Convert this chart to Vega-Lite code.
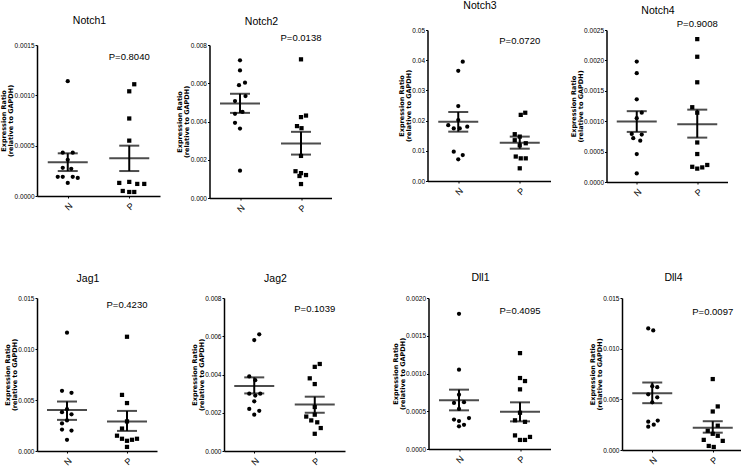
{
"$schema":"https://vega.github.io/schema/vega-lite/v6.json",
"padding":{"left":0,"top":0,"right":0,"bottom":0},
"background":"white",
"datasets":{
"pts":[
{"g":"Notch1","grp":"N","v":0.00114,"j":0},{"g":"Notch1","grp":"N","v":0.00043,"j":-1},{"g":"Notch1","grp":"N","v":0.00043,"j":1},{"g":"Notch1","grp":"N","v":0.00036,"j":0},{"g":"Notch1","grp":"N","v":0.00028,"j":-1},{"g":"Notch1","grp":"N","v":0.00027,"j":0.7},{"g":"Notch1","grp":"N","v":0.00019,"j":-2},{"g":"Notch1","grp":"N","v":0.00019,"j":-1},{"g":"Notch1","grp":"N","v":0.00019,"j":1},{"g":"Notch1","grp":"N","v":0.00018,"j":2},{"g":"Notch1","grp":"N","v":0.00013,"j":0},
{"g":"Notch1","grp":"P","v":0.00111,"j":1},{"g":"Notch1","grp":"P","v":0.00104,"j":0},{"g":"Notch1","grp":"P","v":0.00077,"j":0},{"g":"Notch1","grp":"P","v":0.00055,"j":0},{"g":"Notch1","grp":"P","v":0.00013,"j":-2},{"g":"Notch1","grp":"P","v":0.00014,"j":0},{"g":"Notch1","grp":"P","v":0.00012,"j":1.6},{"g":"Notch1","grp":"P","v":0.00012,"j":3},{"g":"Notch1","grp":"P","v":0.00005,"j":-1.3},{"g":"Notch1","grp":"P","v":0.00004,"j":0},{"g":"Notch1","grp":"P","v":0.00004,"j":1},
{"g":"Notch2","grp":"N","v":0.0072,"j":0},{"g":"Notch2","grp":"N","v":0.00667,"j":0},{"g":"Notch2","grp":"N","v":0.0059,"j":-0.2},{"g":"Notch2","grp":"N","v":0.00603,"j":1},{"g":"Notch2","grp":"N","v":0.00533,"j":1.1},{"g":"Notch2","grp":"N","v":0.00507,"j":-1},{"g":"Notch2","grp":"N","v":0.0045,"j":0.5},{"g":"Notch2","grp":"N","v":0.0044,"j":-1},{"g":"Notch2","grp":"N","v":0.00393,"j":-1},{"g":"Notch2","grp":"N","v":0.00363,"j":0},{"g":"Notch2","grp":"N","v":0.00143,"j":0},
{"g":"Notch2","grp":"P","v":0.00725,"j":0},{"g":"Notch2","grp":"P","v":0.00431,"j":1},{"g":"Notch2","grp":"P","v":0.00423,"j":0},{"g":"Notch2","grp":"P","v":0.00376,"j":-0.8},{"g":"Notch2","grp":"P","v":0.00365,"j":0.1},{"g":"Notch2","grp":"P","v":0.0022,"j":0},{"g":"Notch2","grp":"P","v":0.0014,"j":-1.1},{"g":"Notch2","grp":"P","v":0.0013,"j":0},{"g":"Notch2","grp":"P","v":0.0012,"j":1},{"g":"Notch2","grp":"P","v":0.00115,"j":-0.3},{"g":"Notch2","grp":"P","v":0.00073,"j":0},
{"g":"Notch3","grp":"N","v":0.0395,"j":0.9},{"g":"Notch3","grp":"N","v":0.0365,"j":0},{"g":"Notch3","grp":"N","v":0.0248,"j":0},{"g":"Notch3","grp":"N","v":0.0202,"j":0},{"g":"Notch3","grp":"N","v":0.0185,"j":-2},{"g":"Notch3","grp":"N","v":0.018,"j":1.8},{"g":"Notch3","grp":"N","v":0.0174,"j":-0.9},{"g":"Notch3","grp":"N","v":0.0174,"j":0.3},{"g":"Notch3","grp":"N","v":0.0097,"j":-0.9},{"g":"Notch3","grp":"N","v":0.0086,"j":0.9},{"g":"Notch3","grp":"N","v":0.0072,"j":0},
{"g":"Notch3","grp":"P","v":0.0226,"j":1.1},{"g":"Notch3","grp":"P","v":0.0219,"j":0.2},{"g":"Notch3","grp":"P","v":0.0155,"j":-1},{"g":"Notch3","grp":"P","v":0.0147,"j":0},{"g":"Notch3","grp":"P","v":0.0135,"j":-1},{"g":"Notch3","grp":"P","v":0.0125,"j":1.2},{"g":"Notch3","grp":"P","v":0.0118,"j":0},{"g":"Notch3","grp":"P","v":0.0081,"j":-0.8},{"g":"Notch3","grp":"P","v":0.0075,"j":1.2},{"g":"Notch3","grp":"P","v":0.0075,"j":0.2},{"g":"Notch3","grp":"P","v":0.0042,"j":0},
{"g":"Notch4","grp":"N","v":0.00198,"j":0},{"g":"Notch4","grp":"N","v":0.00179,"j":0},{"g":"Notch4","grp":"N","v":0.00136,"j":0},{"g":"Notch4","grp":"N","v":0.00114,"j":1},{"g":"Notch4","grp":"N","v":0.00105,"j":0},{"g":"Notch4","grp":"N","v":0.00079,"j":-1},{"g":"Notch4","grp":"N","v":0.00078,"j":1},{"g":"Notch4","grp":"N","v":0.00072,"j":-0.7},{"g":"Notch4","grp":"N","v":0.00068,"j":0.7},{"g":"Notch4","grp":"N","v":0.00046,"j":0},{"g":"Notch4","grp":"N","v":0.00014,"j":0},
{"g":"Notch4","grp":"P","v":0.00235,"j":0},{"g":"Notch4","grp":"P","v":0.00206,"j":0},{"g":"Notch4","grp":"P","v":0.00164,"j":0},{"g":"Notch4","grp":"P","v":0.00123,"j":-1},{"g":"Notch4","grp":"P","v":0.00114,"j":0},{"g":"Notch4","grp":"P","v":0.00065,"j":0},{"g":"Notch4","grp":"P","v":0.00046,"j":0},{"g":"Notch4","grp":"P","v":0.00025,"j":-1},{"g":"Notch4","grp":"P","v":0.00022,"j":0},{"g":"Notch4","grp":"P","v":0.00024,"j":1},{"g":"Notch4","grp":"P","v":0.00028,"j":2},
{"g":"Jag1","grp":"N","v":0.0116,"j":0},{"g":"Jag1","grp":"N","v":0.0059,"j":-1},{"g":"Jag1","grp":"N","v":0.0057,"j":0.9},{"g":"Jag1","grp":"N","v":0.0041,"j":0},{"g":"Jag1","grp":"N","v":0.0038,"j":-1},{"g":"Jag1","grp":"N","v":0.0036,"j":0.9},{"g":"Jag1","grp":"N","v":0.003,"j":0},{"g":"Jag1","grp":"N","v":0.0027,"j":-1},{"g":"Jag1","grp":"N","v":0.0021,"j":-1},{"g":"Jag1","grp":"N","v":0.002,"j":0.9},{"g":"Jag1","grp":"N","v":0.0011,"j":0},
{"g":"Jag1","grp":"P","v":0.0112,"j":0},{"g":"Jag1","grp":"P","v":0.0055,"j":-1},{"g":"Jag1","grp":"P","v":0.0047,"j":0},{"g":"Jag1","grp":"P","v":0.0029,"j":0},{"g":"Jag1","grp":"P","v":0.0022,"j":-1},{"g":"Jag1","grp":"P","v":0.0015,"j":-2},{"g":"Jag1","grp":"P","v":0.0012,"j":-1},{"g":"Jag1","grp":"P","v":0.0011,"j":1},{"g":"Jag1","grp":"P","v":0.0012,"j":2},{"g":"Jag1","grp":"P","v":0.001,"j":0},{"g":"Jag1","grp":"P","v":0.0004,"j":0},
{"g":"Jag2","grp":"N","v":0.0061,"j":1},{"g":"Jag2","grp":"N","v":0.0058,"j":0},{"g":"Jag2","grp":"N","v":0.0039,"j":-1},{"g":"Jag2","grp":"N","v":0.0037,"j":0.2},{"g":"Jag2","grp":"N","v":0.003,"j":-1},{"g":"Jag2","grp":"N","v":0.0029,"j":0.2},{"g":"Jag2","grp":"N","v":0.003,"j":1.2},{"g":"Jag2","grp":"N","v":0.0026,"j":0},{"g":"Jag2","grp":"N","v":0.0022,"j":-1},{"g":"Jag2","grp":"N","v":0.0021,"j":1},{"g":"Jag2","grp":"N","v":0.0019,"j":0},
{"g":"Jag2","grp":"P","v":0.00455,"j":1},{"g":"Jag2","grp":"P","v":0.0044,"j":0},{"g":"Jag2","grp":"P","v":0.0038,"j":-1},{"g":"Jag2","grp":"P","v":0.0035,"j":0},{"g":"Jag2","grp":"P","v":0.0023,"j":0},{"g":"Jag2","grp":"P","v":0.0019,"j":0},{"g":"Jag2","grp":"P","v":0.0018,"j":-1.7},{"g":"Jag2","grp":"P","v":0.0016,"j":-0.7},{"g":"Jag2","grp":"P","v":0.0015,"j":0.5},{"g":"Jag2","grp":"P","v":0.0012,"j":1.2},{"g":"Jag2","grp":"P","v":0.0009,"j":0},
{"g":"Dll1","grp":"N","v":0.00179,"j":0},{"g":"Dll1","grp":"N","v":0.00105,"j":0},{"g":"Dll1","grp":"N","v":0.00072,"j":0},{"g":"Dll1","grp":"N","v":0.00062,"j":1},{"g":"Dll1","grp":"N","v":0.00061,"j":-1},{"g":"Dll1","grp":"N","v":0.00053,"j":0},{"g":"Dll1","grp":"N","v":0.00041,"j":2},{"g":"Dll1","grp":"N","v":0.00039,"j":-1},{"g":"Dll1","grp":"N","v":0.00037,"j":0},{"g":"Dll1","grp":"N","v":0.00032,"j":1},{"g":"Dll1","grp":"N","v":0.0003,"j":0},
{"g":"Dll1","grp":"P","v":0.00127,"j":0},{"g":"Dll1","grp":"P","v":0.00094,"j":0},{"g":"Dll1","grp":"P","v":0.0009,"j":1},{"g":"Dll1","grp":"P","v":0.00079,"j":0},{"g":"Dll1","grp":"P","v":0.00048,"j":0},{"g":"Dll1","grp":"P","v":0.00038,"j":-1},{"g":"Dll1","grp":"P","v":0.00036,"j":1},{"g":"Dll1","grp":"P","v":0.00018,"j":-1},{"g":"Dll1","grp":"P","v":0.00012,"j":0},{"g":"Dll1","grp":"P","v":0.00012,"j":1},{"g":"Dll1","grp":"P","v":0.00016,"j":2},
{"g":"Dll4","grp":"N","v":0.012,"j":-0.8},{"g":"Dll4","grp":"N","v":0.0118,"j":0.2},{"g":"Dll4","grp":"N","v":0.0063,"j":0},{"g":"Dll4","grp":"N","v":0.0062,"j":1},{"g":"Dll4","grp":"N","v":0.0055,"j":-0.8},{"g":"Dll4","grp":"N","v":0.0052,"j":1},{"g":"Dll4","grp":"N","v":0.0047,"j":0},{"g":"Dll4","grp":"N","v":0.0029,"j":1.1},{"g":"Dll4","grp":"N","v":0.0028,"j":-0.8},{"g":"Dll4","grp":"N","v":0.0025,"j":0.3},{"g":"Dll4","grp":"N","v":0.0023,"j":-0.8},
{"g":"Dll4","grp":"P","v":0.007,"j":0},{"g":"Dll4","grp":"P","v":0.0043,"j":1},{"g":"Dll4","grp":"P","v":0.0038,"j":0},{"g":"Dll4","grp":"P","v":0.0024,"j":1},{"g":"Dll4","grp":"P","v":0.0019,"j":-1},{"g":"Dll4","grp":"P","v":0.0016,"j":0},{"g":"Dll4","grp":"P","v":0.0014,"j":1},{"g":"Dll4","grp":"P","v":0.001,"j":-1.8},{"g":"Dll4","grp":"P","v":0.0009,"j":2},{"g":"Dll4","grp":"P","v":0.0004,"j":-0.8},{"g":"Dll4","grp":"P","v":0.0003,"j":0.2}
],
"summ":[
{"g":"Notch1","grp":"N","mean":0.000335,"lo":0.000248,"hi":0.000424},
{"g":"Notch1","grp":"P","mean":0.000374,"lo":0.000248,"hi":0.0005,"p":"P=0.8040"},
{"g":"Notch2","grp":"N","mean":0.00494,"lo":0.00445,"hi":0.00545},
{"g":"Notch2","grp":"P","mean":0.00285,"lo":0.00227,"hi":0.00346,"p":"P=0.0138"},
{"g":"Notch3","grp":"N","mean":0.01965,"lo":0.01634,"hi":0.02285},
{"g":"Notch3","grp":"P","mean":0.0127,"lo":0.0107,"hi":0.0147,"p":"P=0.0720"},
{"g":"Notch4","grp":"N","mean":0.000995,"lo":0.000824,"hi":0.001165},
{"g":"Notch4","grp":"P","mean":0.00095,"lo":0.00073,"hi":0.00119,"p":"P=0.9008"},
{"g":"Jag1","grp":"N","mean":0.00403,"lo":0.00305,"hi":0.00485},
{"g":"Jag1","grp":"P","mean":0.00288,"lo":0.00197,"hi":0.00393,"p":"P=0.4230"},
{"g":"Jag2","grp":"N","mean":0.0034,"lo":0.00301,"hi":0.00385},
{"g":"Jag2","grp":"P","mean":0.00243,"lo":0.002,"hi":0.00284,"p":"P=0.1039"},
{"g":"Dll1","grp":"N","mean":0.000645,"lo":0.000512,"hi":0.000786},
{"g":"Dll1","grp":"P","mean":0.000494,"lo":0.000366,"hi":0.000618,"p":"P=0.4095"},
{"g":"Dll4","grp":"N","mean":0.0056,"lo":0.00462,"hi":0.00666},
{"g":"Dll4","grp":"P","mean":0.0022,"lo":0.00171,"hi":0.00284,"p":"P=0.0097"}
]
},
"concat":[
{"concat":[
 {"concat":[
  {"width":123,"height":166,"title":{"text":"Notch1","offset":3.5},
   "encoding":{"x":{"field":"grp","type":"nominal","scale":{"type":"point","padding":0.5,"domain":["N","P"]},"axis":{"title":null}}},
   "layer":[
    {"data":{"name":"pts"},"transform":[{"filter":"datum.g==='Notch1'"}],"mark":{"type":"point","filled":true,"opacity":1,"color":"black","size":18},
     "encoding":{"xOffset":{"field":"j","type":"quantitative","scale":{"domain":[-4,4],"range":[-20,20]}},
      "y":{"field":"v","type":"quantitative","scale":{"domain":[0,0.0015],"nice":false,"range":[166,15]},"axis":{"values":[0,0.0005,0.001,0.0015],"tickCount":10,"format":".4f","labelOverlap":false,"title":["Expression Ratio","(relative to GAPDH)"]}},
      "shape":{"field":"grp","type":"nominal","scale":{"domain":["N","P"],"range":["circle","square"]},"legend":null}}},
    {"data":{"name":"summ"},"transform":[{"filter":"datum.g==='Notch1'"}],"mark":{"type":"rule","color":"black","strokeWidth":2},"encoding":{"y":{"field":"lo","type":"quantitative"},"y2":{"field":"hi"}}},
    {"data":{"name":"summ"},"transform":[{"filter":"datum.g==='Notch1'"}],"mark":{"type":"tick","color":"black","size":40,"thickness":2},"encoding":{"y":{"field":"mean","type":"quantitative"}}},
    {"data":{"name":"summ"},"transform":[{"filter":"datum.g==='Notch1'"},{"fold":["lo","hi"],"as":["k","cap"]}],"mark":{"type":"tick","color":"black","size":20,"thickness":2},"encoding":{"y":{"field":"cap","type":"quantitative"}}},
    {"data":{"name":"summ"},"transform":[{"filter":"datum.g==='Notch1' && datum.grp==='P'"}],"mark":{"type":"text","fontSize":9.5,"color":"black"},"encoding":{"y":{"datum":0.001384},"text":{"field":"p"}}}
   ]},
  {"width":122,"height":168,"title":{"text":"Notch2","offset":2.2},
   "encoding":{"x":{"field":"grp","type":"nominal","scale":{"type":"point","padding":0.5,"domain":["N","P"]},"axis":{"title":null}}},
   "layer":[
    {"data":{"name":"pts"},"transform":[{"filter":"datum.g==='Notch2'"}],"mark":{"type":"point","filled":true,"opacity":1,"color":"black","size":18},
     "encoding":{"xOffset":{"field":"j","type":"quantitative","scale":{"domain":[-4,4],"range":[-20,20]}},
      "y":{"field":"v","type":"quantitative","scale":{"domain":[0,0.008],"nice":false,"range":[168,15]},"axis":{"values":[0,0.002,0.004,0.006,0.008],"tickCount":10,"format":".3f","labelOverlap":false,"title":["Expression Ratio","(relative to GAPDH)"]}},
      "shape":{"field":"grp","type":"nominal","scale":{"domain":["N","P"],"range":["circle","square"]},"legend":null}}},
    {"data":{"name":"summ"},"transform":[{"filter":"datum.g==='Notch2'"}],"mark":{"type":"rule","color":"black","strokeWidth":2},"encoding":{"y":{"field":"lo","type":"quantitative"},"y2":{"field":"hi"}}},
    {"data":{"name":"summ"},"transform":[{"filter":"datum.g==='Notch2'"}],"mark":{"type":"tick","color":"black","size":40,"thickness":2},"encoding":{"y":{"field":"mean","type":"quantitative"}}},
    {"data":{"name":"summ"},"transform":[{"filter":"datum.g==='Notch2'"},{"fold":["lo","hi"],"as":["k","cap"]}],"mark":{"type":"tick","color":"black","size":20,"thickness":2},"encoding":{"y":{"field":"cap","type":"quantitative"}}},
    {"data":{"name":"summ"},"transform":[{"filter":"datum.g==='Notch2' && datum.grp==='P'"}],"mark":{"type":"text","fontSize":9.5,"color":"black"},"encoding":{"y":{"datum":0.00838},"text":{"field":"p"}}}
   ]}
 ],"columns":2,"align":"none","spacing":16.5},
 {"concat":[
  {"width":123,"height":151,"title":{"text":"Notch3","offset":16},
   "encoding":{"x":{"field":"grp","type":"nominal","scale":{"type":"point","padding":0.5,"domain":["N","P"]},"axis":{"title":null}}},
   "layer":[
    {"data":{"name":"pts"},"transform":[{"filter":"datum.g==='Notch3'"}],"mark":{"type":"point","filled":true,"opacity":1,"color":"black","size":18},
     "encoding":{"xOffset":{"field":"j","type":"quantitative","scale":{"domain":[-4,4],"range":[-20,20]}},
      "y":{"field":"v","type":"quantitative","scale":{"domain":[0,0.05],"nice":false},"axis":{"values":[0,0.01,0.02,0.03,0.04,0.05],"tickCount":10,"format":".2f","labelOverlap":false,"title":["Expression Ratio","(relative to GAPDH)"]}},
      "shape":{"field":"grp","type":"nominal","scale":{"domain":["N","P"],"range":["circle","square"]},"legend":null}}},
    {"data":{"name":"summ"},"transform":[{"filter":"datum.g==='Notch3'"}],"mark":{"type":"rule","color":"black","strokeWidth":2},"encoding":{"y":{"field":"lo","type":"quantitative"},"y2":{"field":"hi"}}},
    {"data":{"name":"summ"},"transform":[{"filter":"datum.g==='Notch3'"}],"mark":{"type":"tick","color":"black","size":40,"thickness":2},"encoding":{"y":{"field":"mean","type":"quantitative"}}},
    {"data":{"name":"summ"},"transform":[{"filter":"datum.g==='Notch3'"},{"fold":["lo","hi"],"as":["k","cap"]}],"mark":{"type":"tick","color":"black","size":20,"thickness":2},"encoding":{"y":{"field":"cap","type":"quantitative"}}},
    {"data":{"name":"summ"},"transform":[{"filter":"datum.g==='Notch3' && datum.grp==='P'"}],"mark":{"type":"text","fontSize":9.5,"color":"black"},"encoding":{"y":{"datum":0.0464},"text":{"field":"p"}}}
   ]},
  {"width":121,"height":152,"title":{"text":"Notch4","offset":2.5},
   "encoding":{"x":{"field":"grp","type":"nominal","scale":{"type":"point","padding":0.5,"domain":["N","P"]},"axis":{"title":null}}},
   "layer":[
    {"data":{"name":"pts"},"transform":[{"filter":"datum.g==='Notch4'"}],"mark":{"type":"point","filled":true,"opacity":1,"color":"black","size":18},
     "encoding":{"xOffset":{"field":"j","type":"quantitative","scale":{"domain":[-4,4],"range":[-20,20]}},
      "y":{"field":"v","type":"quantitative","scale":{"domain":[0,0.0025],"nice":false},"axis":{"values":[0,0.0005,0.001,0.0015,0.002,0.0025],"tickCount":10,"format":".4f","labelOverlap":false,"title":["Expression Ratio","(relative to GAPDH)"]}},
      "shape":{"field":"grp","type":"nominal","scale":{"domain":["N","P"],"range":["circle","square"]},"legend":null}}},
    {"data":{"name":"summ"},"transform":[{"filter":"datum.g==='Notch4'"}],"mark":{"type":"rule","color":"black","strokeWidth":2},"encoding":{"y":{"field":"lo","type":"quantitative"},"y2":{"field":"hi"}}},
    {"data":{"name":"summ"},"transform":[{"filter":"datum.g==='Notch4'"}],"mark":{"type":"tick","color":"black","size":40,"thickness":2},"encoding":{"y":{"field":"mean","type":"quantitative"}}},
    {"data":{"name":"summ"},"transform":[{"filter":"datum.g==='Notch4'"},{"fold":["lo","hi"],"as":["k","cap"]}],"mark":{"type":"tick","color":"black","size":20,"thickness":2},"encoding":{"y":{"field":"cap","type":"quantitative"}}},
    {"data":{"name":"summ"},"transform":[{"filter":"datum.g==='Notch4' && datum.grp==='P'"}],"mark":{"type":"text","fontSize":9.5,"color":"black"},"encoding":{"y":{"datum":0.0026},"text":{"field":"p"}}}
   ]}
 ],"columns":2,"align":"none","spacing":19}
],"columns":2,"align":"none","spacing":65.5},
{"concat":[
 {"concat":[
  {"width":120,"height":153,"title":{"text":"Jag1","offset":11},
   "encoding":{"x":{"field":"grp","type":"nominal","scale":{"type":"point","padding":0.5,"domain":["N","P"]},"axis":{"title":null}}},
   "layer":[
    {"data":{"name":"pts"},"transform":[{"filter":"datum.g==='Jag1'"}],"mark":{"type":"point","filled":true,"opacity":1,"color":"black","size":18},
     "encoding":{"xOffset":{"field":"j","type":"quantitative","scale":{"domain":[-4,4],"range":[-20,20]}},
      "y":{"field":"v","type":"quantitative","scale":{"domain":[0,0.015],"nice":false},"axis":{"values":[0,0.005,0.01,0.015],"tickCount":10,"format":".3f","labelOverlap":false,"title":["Expression Ratio","(relative to GAPDH)"]}},
      "shape":{"field":"grp","type":"nominal","scale":{"domain":["N","P"],"range":["circle","square"]},"legend":null}}},
    {"data":{"name":"summ"},"transform":[{"filter":"datum.g==='Jag1'"}],"mark":{"type":"rule","color":"black","strokeWidth":2},"encoding":{"y":{"field":"lo","type":"quantitative"},"y2":{"field":"hi"}}},
    {"data":{"name":"summ"},"transform":[{"filter":"datum.g==='Jag1'"}],"mark":{"type":"tick","color":"black","size":40,"thickness":2},"encoding":{"y":{"field":"mean","type":"quantitative"}}},
    {"data":{"name":"summ"},"transform":[{"filter":"datum.g==='Jag1'"},{"fold":["lo","hi"],"as":["k","cap"]}],"mark":{"type":"tick","color":"black","size":20,"thickness":2},"encoding":{"y":{"field":"cap","type":"quantitative"}}},
    {"data":{"name":"summ"},"transform":[{"filter":"datum.g==='Jag1' && datum.grp==='P'"}],"mark":{"type":"text","fontSize":9.5,"color":"black"},"encoding":{"y":{"datum":0.01434},"text":{"field":"p"}}}
   ]},
  {"width":121,"height":153,"title":{"text":"Jag2","offset":11},
   "encoding":{"x":{"field":"grp","type":"nominal","scale":{"type":"point","padding":0.5,"domain":["N","P"]},"axis":{"title":null}}},
   "layer":[
    {"data":{"name":"pts"},"transform":[{"filter":"datum.g==='Jag2'"}],"mark":{"type":"point","filled":true,"opacity":1,"color":"black","size":18},
     "encoding":{"xOffset":{"field":"j","type":"quantitative","scale":{"domain":[-4,4],"range":[-20,20]}},
      "y":{"field":"v","type":"quantitative","scale":{"domain":[0,0.008],"nice":false},"axis":{"values":[0,0.002,0.004,0.006,0.008],"tickCount":10,"format":".3f","labelOverlap":false,"title":["Expression Ratio","(relative to GAPDH)"]}},
      "shape":{"field":"grp","type":"nominal","scale":{"domain":["N","P"],"range":["circle","square"]},"legend":null}}},
    {"data":{"name":"summ"},"transform":[{"filter":"datum.g==='Jag2'"}],"mark":{"type":"rule","color":"black","strokeWidth":2},"encoding":{"y":{"field":"lo","type":"quantitative"},"y2":{"field":"hi"}}},
    {"data":{"name":"summ"},"transform":[{"filter":"datum.g==='Jag2'"}],"mark":{"type":"tick","color":"black","size":40,"thickness":2},"encoding":{"y":{"field":"mean","type":"quantitative"}}},
    {"data":{"name":"summ"},"transform":[{"filter":"datum.g==='Jag2'"},{"fold":["lo","hi"],"as":["k","cap"]}],"mark":{"type":"tick","color":"black","size":20,"thickness":2},"encoding":{"y":{"field":"cap","type":"quantitative"}}},
    {"data":{"name":"summ"},"transform":[{"filter":"datum.g==='Jag2' && datum.grp==='P'"}],"mark":{"type":"text","fontSize":9.5,"color":"black"},"encoding":{"y":{"datum":0.00742},"text":{"field":"p"}}}
   ]}
 ],"columns":2,"align":"none","spacing":34},
 {"concat":[
  {"width":122,"height":151,"title":{"text":"Dll1","offset":12},
   "encoding":{"x":{"field":"grp","type":"nominal","scale":{"type":"point","padding":0.5,"domain":["N","P"]},"axis":{"title":null}}},
   "layer":[
    {"data":{"name":"pts"},"transform":[{"filter":"datum.g==='Dll1'"}],"mark":{"type":"point","filled":true,"opacity":1,"color":"black","size":18},
     "encoding":{"xOffset":{"field":"j","type":"quantitative","scale":{"domain":[-4,4],"range":[-20,20]}},
      "y":{"field":"v","type":"quantitative","scale":{"domain":[0,0.002],"nice":false},"axis":{"values":[0,0.0005,0.001,0.0015,0.002],"tickCount":10,"format":".4f","labelOverlap":false,"title":["Expression Ratio","(relative to GAPDH)"]}},
      "shape":{"field":"grp","type":"nominal","scale":{"domain":["N","P"],"range":["circle","square"]},"legend":null}}},
    {"data":{"name":"summ"},"transform":[{"filter":"datum.g==='Dll1'"}],"mark":{"type":"rule","color":"black","strokeWidth":2},"encoding":{"y":{"field":"lo","type":"quantitative"},"y2":{"field":"hi"}}},
    {"data":{"name":"summ"},"transform":[{"filter":"datum.g==='Dll1'"}],"mark":{"type":"tick","color":"black","size":40,"thickness":2},"encoding":{"y":{"field":"mean","type":"quantitative"}}},
    {"data":{"name":"summ"},"transform":[{"filter":"datum.g==='Dll1'"},{"fold":["lo","hi"],"as":["k","cap"]}],"mark":{"type":"tick","color":"black","size":20,"thickness":2},"encoding":{"y":{"field":"cap","type":"quantitative"}}},
    {"data":{"name":"summ"},"transform":[{"filter":"datum.g==='Dll1' && datum.grp==='P'"}],"mark":{"type":"text","fontSize":9.5,"color":"black"},"encoding":{"y":{"datum":0.001823},"text":{"field":"p"}}}
   ]},
  {"width":121,"height":152,"title":{"text":"Dll4","offset":12},
   "encoding":{"x":{"field":"grp","type":"nominal","scale":{"type":"point","padding":0.5,"domain":["N","P"]},"axis":{"title":null}}},
   "layer":[
    {"data":{"name":"pts"},"transform":[{"filter":"datum.g==='Dll4'"}],"mark":{"type":"point","filled":true,"opacity":1,"color":"black","size":18},
     "encoding":{"xOffset":{"field":"j","type":"quantitative","scale":{"domain":[-4,4],"range":[-20,20]}},
      "y":{"field":"v","type":"quantitative","scale":{"domain":[0,0.015],"nice":false},"axis":{"values":[0,0.005,0.01,0.015],"tickCount":10,"format":".3f","labelOverlap":false,"title":["Expression Ratio","(relative to GAPDH)"]}},
      "shape":{"field":"grp","type":"nominal","scale":{"domain":["N","P"],"range":["circle","square"]},"legend":null}}},
    {"data":{"name":"summ"},"transform":[{"filter":"datum.g==='Dll4'"}],"mark":{"type":"rule","color":"black","strokeWidth":2},"encoding":{"y":{"field":"lo","type":"quantitative"},"y2":{"field":"hi"}}},
    {"data":{"name":"summ"},"transform":[{"filter":"datum.g==='Dll4'"}],"mark":{"type":"tick","color":"black","size":40,"thickness":2},"encoding":{"y":{"field":"mean","type":"quantitative"}}},
    {"data":{"name":"summ"},"transform":[{"filter":"datum.g==='Dll4'"},{"fold":["lo","hi"],"as":["k","cap"]}],"mark":{"type":"tick","color":"black","size":20,"thickness":2},"encoding":{"y":{"field":"cap","type":"quantitative"}}},
    {"data":{"name":"summ"},"transform":[{"filter":"datum.g==='Dll4' && datum.grp==='P'"}],"mark":{"type":"text","fontSize":9.5,"color":"black"},"encoding":{"y":{"datum":0.01365},"text":{"field":"p"}}}
   ]}
 ],"columns":2,"align":"none","spacing":38.5}
],"columns":2,"align":"none","spacing":46.5}
],"columns":1,"align":"none","spacing":58,
"config":{
 "view":{"stroke":null},
 "font":"Liberation Sans",
 "text":{"font":"Liberation Sans"},
 "axis":{"domainColor":"black","domainWidth":1.5,"tickColor":"black","tickWidth":1,"tickSize":2,"labelColor":"black","grid":false,"labelFont":"Liberation Sans","labelFontSize":6.5},
 "axisY":{"titleFont":"DejaVu Sans","titleFontWeight":"bold","titleFontSize":6.5,"titleColor":"black","titlePadding":0.5,"titleLineHeight":7,"labelPadding":1,"labelOverlap":false},
 "axisX":{"labelAngle":-45,"labelFontSize":9,"labelPadding":3},
 "title":{"font":"Liberation Sans","fontSize":10.5,"fontWeight":"normal","dx":-9,"color":"black","anchor":"middle","frame":"group"}
}
}
